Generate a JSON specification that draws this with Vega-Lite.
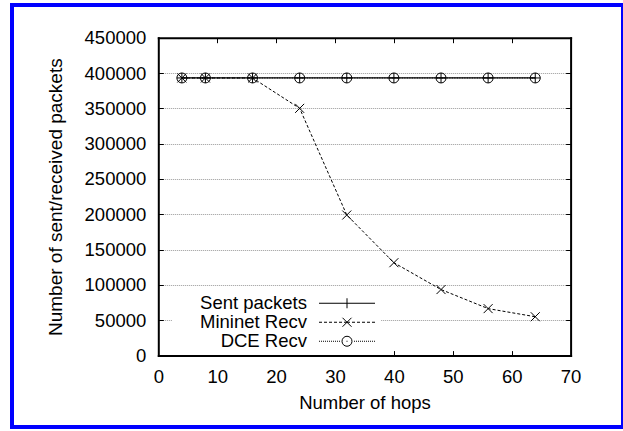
{
  "$schema": "https://vega.github.io/schema/vega-lite/v6.json",
  "width": 611,
  "height": 422,
  "autosize": {"type": "none"},
  "padding": {"left": 12, "top": 5, "right": 0, "bottom": 4},
  "background": "white",
  "view": {"stroke": "#0000ff", "strokeWidth": 4, "fill": "white"},
  "config": {
    "font": "Liberation Sans",
    "axis": {
      "domainColor": "black",
      "domainWidth": 2,
      "domainCap": "square",
      "tickColor": "black",
      "tickWidth": 1,
      "tickSize": -5,
      "labelFont": "Liberation Sans",
      "labelFontSize": 18.5,
      "labelColor": "black",
      "labelFlush": false,
      "labelOverlap": false,
      "titleFont": "Liberation Sans",
      "titleFontSize": 18.5,
      "titleFontWeight": "normal",
      "titleColor": "black",
      "gridColor": "#999999",
      "gridDash": [1, 1],
      "gridWidth": 1
    }
  },
  "data": {
    "values": [
      {"hops": 4, "series": "Sent packets", "packets": 393000},
      {"hops": 8, "series": "Sent packets", "packets": 393000},
      {"hops": 16, "series": "Sent packets", "packets": 393000},
      {"hops": 24, "series": "Sent packets", "packets": 393000},
      {"hops": 32, "series": "Sent packets", "packets": 393000},
      {"hops": 40, "series": "Sent packets", "packets": 393000},
      {"hops": 48, "series": "Sent packets", "packets": 393000},
      {"hops": 56, "series": "Sent packets", "packets": 393000},
      {"hops": 64, "series": "Sent packets", "packets": 393000},
      {"hops": 4, "series": "Mininet Recv", "packets": 393000},
      {"hops": 8, "series": "Mininet Recv", "packets": 393000},
      {"hops": 16, "series": "Mininet Recv", "packets": 393000},
      {"hops": 24, "series": "Mininet Recv", "packets": 350000},
      {"hops": 32, "series": "Mininet Recv", "packets": 199000},
      {"hops": 40, "series": "Mininet Recv", "packets": 131500},
      {"hops": 48, "series": "Mininet Recv", "packets": 93500},
      {"hops": 56, "series": "Mininet Recv", "packets": 66500},
      {"hops": 64, "series": "Mininet Recv", "packets": 55000},
      {"hops": 4, "series": "DCE Recv", "packets": 393000},
      {"hops": 8, "series": "DCE Recv", "packets": 393000},
      {"hops": 16, "series": "DCE Recv", "packets": 393000},
      {"hops": 24, "series": "DCE Recv", "packets": 393000},
      {"hops": 32, "series": "DCE Recv", "packets": 393000},
      {"hops": 40, "series": "DCE Recv", "packets": 393000},
      {"hops": 48, "series": "DCE Recv", "packets": 393000},
      {"hops": 56, "series": "DCE Recv", "packets": 393000},
      {"hops": 64, "series": "DCE Recv", "packets": 393000}
    ]
  },
  "resolve": {"axis": {"x": "independent", "y": "independent"}},
  "layer": [
    {
      "transform": [{"filter": "datum.series === 'DCE Recv'"}],
      "mark": {"type": "line", "color": "black", "strokeWidth": 1, "strokeDash": [1, 1.5], "interpolate": "linear"},
      "encoding": {
        "x": {
          "field": "hops", "type": "quantitative",
          "scale": {"domain": [0, 70], "range": [146.3, 558.6], "nice": false, "zero": false},
          "axis": {
            "orient": "bottom", "offset": -71.4, "values": [0, 10, 20, 30, 40, 50, 60, 70], "format": "d",
            "title": "Number of hops", "grid": false, "labelPadding": 17, "titlePadding": 7
          }
        },
        "y": {
          "field": "packets", "type": "quantitative",
          "scale": {"domain": [0, 450000], "range": [350.6, 32.7], "nice": false, "zero": false},
          "axis": {
            "orient": "left", "offset": -146.3,
            "values": [0, 50000, 100000, 150000, 200000, 250000, 300000, 350000, 400000, 450000], "format": "d",
            "title": "Number of sent/received packets", "titleFontSize": 19, "grid": true, "labelPadding": 17.5, "titlePadding": 19
          }
        }
      }
    },
    {
      "transform": [{"filter": "datum.series === 'Sent packets'"}],
      "mark": {"type": "line", "color": "black", "strokeWidth": 1.2, "interpolate": "linear"},
      "encoding": {
        "x": {"field": "hops", "type": "quantitative", "axis": null},
        "y": {"field": "packets", "type": "quantitative", "axis": null}
      }
    },
    {
      "transform": [{"filter": "datum.series === 'Mininet Recv'"}],
      "mark": {"type": "line", "color": "black", "strokeWidth": 1, "strokeDash": [3, 2], "interpolate": "linear"},
      "encoding": {
        "x": {"field": "hops", "type": "quantitative", "axis": null},
        "y": {"field": "packets", "type": "quantitative", "axis": null}
      }
    },
    {
      "mark": {"type": "point", "filled": false, "color": "black", "strokeWidth": 1, "size": 100, "opacity": 1},
      "encoding": {
        "x": {
          "field": "hops", "type": "quantitative",
          "axis": {"orient": "top", "offset": -32.7, "values": [0, 10, 20, 30, 40, 50, 60, 70], "labels": false, "title": null, "grid": false}
        },
        "y": {
          "field": "packets", "type": "quantitative",
          "axis": {"orient": "right", "offset": -52.4, "values": [0, 50000, 100000, 150000, 200000, 250000, 300000, 350000, 400000, 450000], "labels": false, "title": null, "grid": false}
        },
        "shape": {
          "field": "series", "type": "nominal", "sort": "ascending",
          "scale": {
            "range": ["M1,0A1,1 0 1,1 -1,0A1,1 0 1,1 1,0", "M-0.9,-0.9L0.9,0.9M-0.9,0.9L0.9,-0.9", "M-1,0H1M0,-1V1"]
          },
          "legend": null
        },
        "stroke": {
          "field": "series", "type": "nominal",
          "scale": {"domain": ["Sent packets", "Mininet Recv", "DCE Recv"], "range": ["black", "black", "black"]},
          "legend": {
            "orient": "none", "legendX": 160, "legendY": 285, "padding": 4, "title": null,
            "fillColor": "white",
            "labelFont": "Liberation Sans", "labelFontSize": 18.5, "labelColor": "black", "labelAlign": "right", "labelLimit": 400,
            "labelOffset": -49.25, "symbolOffset": 161.75, "rowPadding": 0,
            "symbolSize": 100, "symbolStrokeWidth": 1, "symbolFillColor": "transparent",
            "symbolType": {"expr": "datum.value === 'Sent packets' ? 'M-5.6,0H5.6M0,-1V1' : datum.value === 'Mininet Recv' ? 'M-5.6,0H-5M-4.6,0H-4M-3.6,0H-3M-2.6,0H-2M-1.6,0H-1M-0.6,0H0.6M1,0H1.6M2,0H2.6M3,0H3.6M4,0H4.6M5,0H5.6M-0.9,-0.9L0.9,0.9M-0.9,0.9L0.9,-0.9' : 'M-5.6,0H-5.4M-5.2,0H-5M-4.8,0H-4.6M-4.4,0H-4.2M-4,0H-3.8M-3.6,0H-3.4M-3.2,0H-3M-2.8,0H-2.6M-2.4,0H-2.2M-2,0H-1.8M-1.6,0H-1.4M1.4,0H1.6M1.8,0H2M2.2,0H2.4M2.6,0H2.8M3,0H3.2M3.4,0H3.6M3.8,0H4M4.2,0H4.4M4.6,0H4.8M5,0H5.2M5.4,0H5.6M-0.1,0H0.1M1,0A1,1 0 1,1 -1,0A1,1 0 1,1 1,0'"}
          }
        }
      }
    }
  ]
}
